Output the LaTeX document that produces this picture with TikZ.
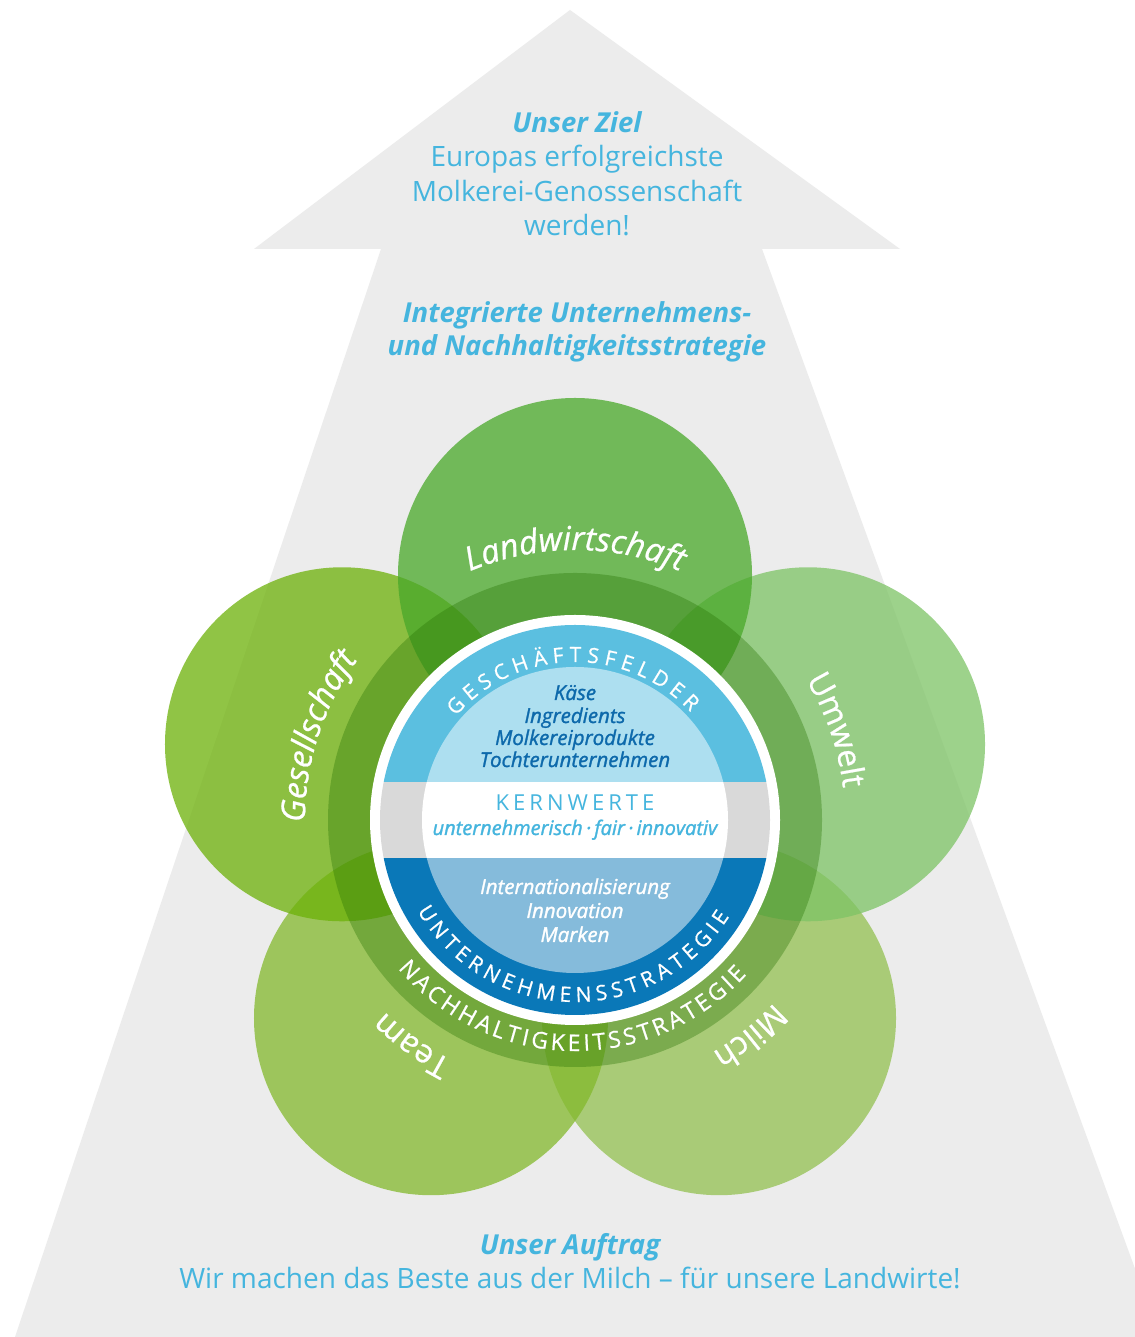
\documentclass[tikz,border=0pt]{standalone}
\usepackage{fontspec}
\setmainfont{Open Sans}
\newfontfamily\semifam{Open Sans}[FakeBold=1.4]
\newfontfamily\midfam{Open Sans}[FakeBold=0.7]
\usetikzlibrary{decorations.text}
\definecolor{arrowgrey}{HTML}{ECECEC}
\definecolor{txtblue}{HTML}{45B5DE}
\definecolor{darktxt}{HTML}{0D69AB}
\definecolor{cLand}{RGB}{73,168,41}
\definecolor{cGes}{RGB}{108,177,8}
\definecolor{cUmw}{RGB}{125,195,101}
\definecolor{cTeam}{RGB}{131,185,44}
\definecolor{cMilch}{RGB}{147,193,81}
\definecolor{cRing}{RGB}{38,114,2}
\definecolor{topouter}{HTML}{5BBFE0}
\definecolor{topinner}{HTML}{ADDFF0}
\definecolor{midgrey}{HTML}{D9D9D9}
\definecolor{botouter}{HTML}{0A78B8}
\definecolor{botinner}{HTML}{85BBDB}
\newcommand\petalit{\midfam\fontsize{33}{33}\selectfont\itshape}
\newcommand\petalup{\midfam\fontsize{32}{32}\selectfont}
\newcommand\capsA{\midfam\fontsize{21}{21}\selectfont}
\newcommand\capsB{\midfam\fontsize{23}{23}\selectfont}
\begin{document}
\begin{tikzpicture}[x=1pt,y=1pt,
  petal/.style={fill opacity=0.75},
  bigtxt/.style={text=txtblue, font=\fontsize{28}{28}\selectfont, anchor=base, inner sep=0pt},
  bigbold/.style={bigtxt, font=\fontsize{27.5}{28}\selectfont\bfseries\itshape},
  darkline/.style={text=darktxt, font=\semifam\fontsize{20.5}{20}\selectfont\itshape, anchor=base, inner sep=0pt},
  whiteline/.style={text=white, font=\semifam\fontsize{20.5}{20}\selectfont\itshape, anchor=base, inner sep=0pt},
  blueline/.style={text=txtblue, font=\semifam\fontsize{20}{20}\selectfont\itshape, anchor=base, inner sep=0pt}
]
\useasboundingbox (0,0) rectangle (1134,1337);
\fill[white] (0,0) rectangle (1134,1337);
% arrow
\fill[arrowgrey] (15,0) -- (381,1088) -- (254,1088) -- (570,1327) -- (900,1088) -- (762,1088) -- (1160,0) -- cycle;
\coordinate (C) at (575,517);
\path (C) ++(90:245) coordinate (pL);
\path (C) ++(162:245) coordinate (pG);
\path (C) ++(18:245) coordinate (pU);
\path (C) ++(234:245) coordinate (pT);
\path (C) ++(306:245) coordinate (pM);
% petals
\fill[petal, cMilch] (pM) circle (177);
\fill[petal, cUmw] (pU) circle (177);
\fill[petal, cTeam] (pT) circle (177);
\fill[petal, cGes] (pG) circle (177);
\fill[petal, cLand] (pL) circle (177);
% sustainability ring
\fill[cRing, fill opacity=0.35] (C) circle (247);
\fill[white] (C) circle (205);
% core disc
\begin{scope}
\clip (C) circle (195);
\fill[topouter] (370,555) rectangle (780,720);
\fill[midgrey] (370,479) rectangle (780,555);
\fill[botouter] (370,310) rectangle (780,479);
\end{scope}
\begin{scope}
\clip (C) circle (153);
\fill[topinner] (370,555) rectangle (780,720);
\fill[white] (370,479) rectangle (780,555);
\fill[botinner] (370,310) rectangle (780,479);
\end{scope}
% petal labels
\path[decorate, decoration={text along path, text={|\petalit|Landwirtschaft}, text align=center, text color=white}]
  (C) ++(132:270) arc[start angle=132, end angle=48, radius=270];
\path[decorate, decoration={text along path, text={|\petalit|Gesellschaft}, text align=center, text color=white}]
  (C) ++(204:270) arc[start angle=204, end angle=120, radius=270];
\path[decorate, decoration={text along path, text={|\petalup|Umwelt}, text align=center, text color=white}]
  (C) ++(61:270) arc[start angle=61, end angle=-23, radius=270];
\path[decorate, decoration={text along path, text={|\petalup|Team}, text align=center, text color=white}]
  (C) ++(276:270) arc[start angle=276, end angle=192, radius=270];
\path[decorate, decoration={text along path, text={|\petalup|Milch}, text align=center, text color=white}]
  (C) ++(351:270) arc[start angle=351, end angle=267, radius=270];
% curved ring labels
\path[decorate, decoration={text along path, text={|\capsA|GESCHÄFTSFELDER}, text align={fit to path}, text color=white}]
  (C) ++(139:158) arc[start angle=139, end angle=43, radius=158];
\path[decorate, decoration={text along path, text={|\capsA|UNTERNEHMENSSTRATEGIE}, text align={fit to path}, text color=white}]
  (C) ++(210:182) arc[start angle=210, end angle=328, radius=182];
\path[decorate, decoration={text along path, text={|\capsB|NACHHALTIGKEITSSTRATEGIE}, text align={fit to path}, text color=white}]
  (C) ++(220:231) arc[start angle=220, end angle=318, radius=231];
% inner texts
\node[darkline] (kaese) at (575,637) {Käse};
\node[darkline] (ingr) at (575,614) {Ingredients};
\node[darkline] (molk) at (575,592) {Molkereiprodukte};
\node[darkline] (toch) at (575,570) {Tochterunternehmen};
\node[bigtxt, font=\fontsize{22}{22}\selectfont] (kern) at (575,526) {K\kern4pt E\kern4pt R\kern4pt N\kern4pt W\kern4pt E\kern4pt R\kern4pt T\kern4pt E};
\node[blueline] (werte) at (575,502) {unternehmerisch\,·\,fair\,·\,innovativ};
\node[whiteline] (intl) at (575,443) {Internationalisierung};
\node[whiteline] (innov) at (575,419) {Innovation};
\node[whiteline] (mark) at (575,395) {Marken};
% top texts
\node[bigbold] (ziel) at (577,1204) {Unser Ziel};
\node[bigtxt] (z1) at (577,1170) {Europas erfolgreichste};
\node[bigtxt] (z2) at (577,1135) {Molkerei-Genossenschaft};
\node[bigtxt] (z3) at (577,1101) {werden!};
\node[bigbold] (s1) at (577,1014) {Integrierte Unternehmens-};
\node[bigbold] (s2) at (577,981) {und Nachhaltigkeitsstrategie};
% bottom texts
\node[bigbold] (auftrag) at (570,82) {Unser Auftrag};
\node[bigtxt] (a1) at (570,48) {Wir machen das Beste aus der Milch -- für unsere Landwirte!};
\end{tikzpicture}
\end{document}
